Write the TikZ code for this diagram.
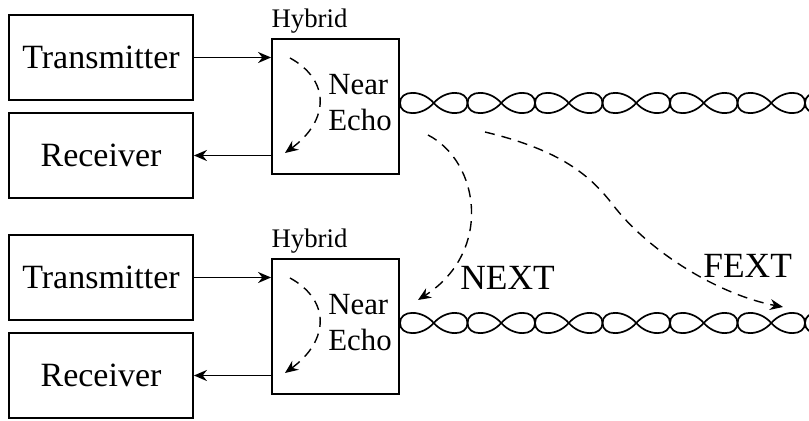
\documentclass[tikz,border=0pt]{standalone}
\usepackage{fontspec}
\setmainfont{Liberation Serif}
\usetikzlibrary{arrows.meta}

\tikzset{
  unit/.style={draw, line width=0.9pt, inner sep=0pt, minimum width=92pt, minimum height=42.5pt, font=\fontsize{17}{20}\selectfont},
  hybridbox/.style={draw, line width=0.9pt, inner sep=0pt, minimum width=63.5pt, minimum height=67.5pt},
  sig/.style={line width=0.8pt, -{Stealth[length=6.5pt,width=5.5pt]}},
  leak/.style={line width=0.7pt, dash pattern=on 5pt off 3.5pt, -{Stealth[length=6.5pt,width=5.5pt]}},
  wire/.style={line width=0.85pt},
  tag/.style={anchor=base west, inner sep=0pt, font=\fontsize{17.7}{20}\selectfont}
}

\begin{document}
\begin{tikzpicture}[x=0.5pt, y=-0.5pt]
\useasboundingbox (0,0) rectangle (809,421);

% two line ends, the lower one 220 below the upper one
\foreach \g/\dy in {a/0, b/220}{
  \node[unit] (tx\g) at (101,57.5+\dy) {Transmitter};
  \node[unit] (rx\g) at (101,155.5+\dy) {Receiver};
  \node[hybridbox] (hyb\g) at (335.5,106.5+\dy) {};
  \node[anchor=base west, inner sep=0pt, font=\fontsize{13.4}{16}\selectfont] (hl\g) at ([yshift=5.5pt]hyb\g.north west) {Hybrid};
  \node[anchor=west, inner sep=0pt, align=left, font=\fontsize{15.4}{18}\selectfont] (ne\g) at (328,103+\dy) {Near\\Echo};
  \draw[sig] (tx\g.east) -- (tx\g.east -| hyb\g.west);
  \draw[sig] (rx\g.east -| hyb\g.west) -- (rx\g.east);
  % echo inside the hybrid
  \coordinate (es\g) at (290,58+\dy);
  \coordinate (ee\g) at (285,153+\dy);
  \draw[leak] (es\g) .. controls (330,80+\dy) and (330,120+\dy) .. (ee\g);
  % twisted pair
  \begin{scope}
    \clip (0,0) rectangle (809,421);
    \pgfmathsetmacro{\c}{103+\dy}
    \foreach \k in {0,...,6}{
      \pgfmathsetmacro{\xa}{400+67.5*\k}
      \pgfmathsetmacro{\xb}{\xa+22}
      \pgfmathsetmacro{\xm}{\xa+33.75}
      \pgfmathsetmacro{\xc}{\xa+45.5}
      \pgfmathsetmacro{\xe}{\xa+67.5}
      \draw[wire] (\xa,\c) .. controls (\xa,\c-13.5) and (\xb,\c-13.5) .. (\xm,\c)
        .. controls (\xc,\c+13.5) and (\xe,\c+13.5) .. (\xe,\c)
        .. controls (\xe,\c-13.5) and (\xc,\c-13.5) .. (\xm,\c)
        .. controls (\xb,\c+13.5) and (\xa,\c+13.5) .. (\xa,\c);
    }
  \end{scope}
}

% crosstalk
\coordinate (ns) at (428,135);
\coordinate (nt) at (418,300);
\coordinate (fs) at (485,132);
\coordinate (fm) at (613,205);
\coordinate (ft) at (783,307);
\draw[leak] (ns) .. controls (480,162) and (493,252) .. (nt);
\draw[leak] (fs) .. controls (560,150) and (590,175) .. (fm)
  .. controls (650,253) and (720,295) .. (ft);
\node[tag] (next) at (460,290) {NEXT};
\node[tag] (fext) at (703,278) {FEXT};
\end{tikzpicture}
\end{document}
